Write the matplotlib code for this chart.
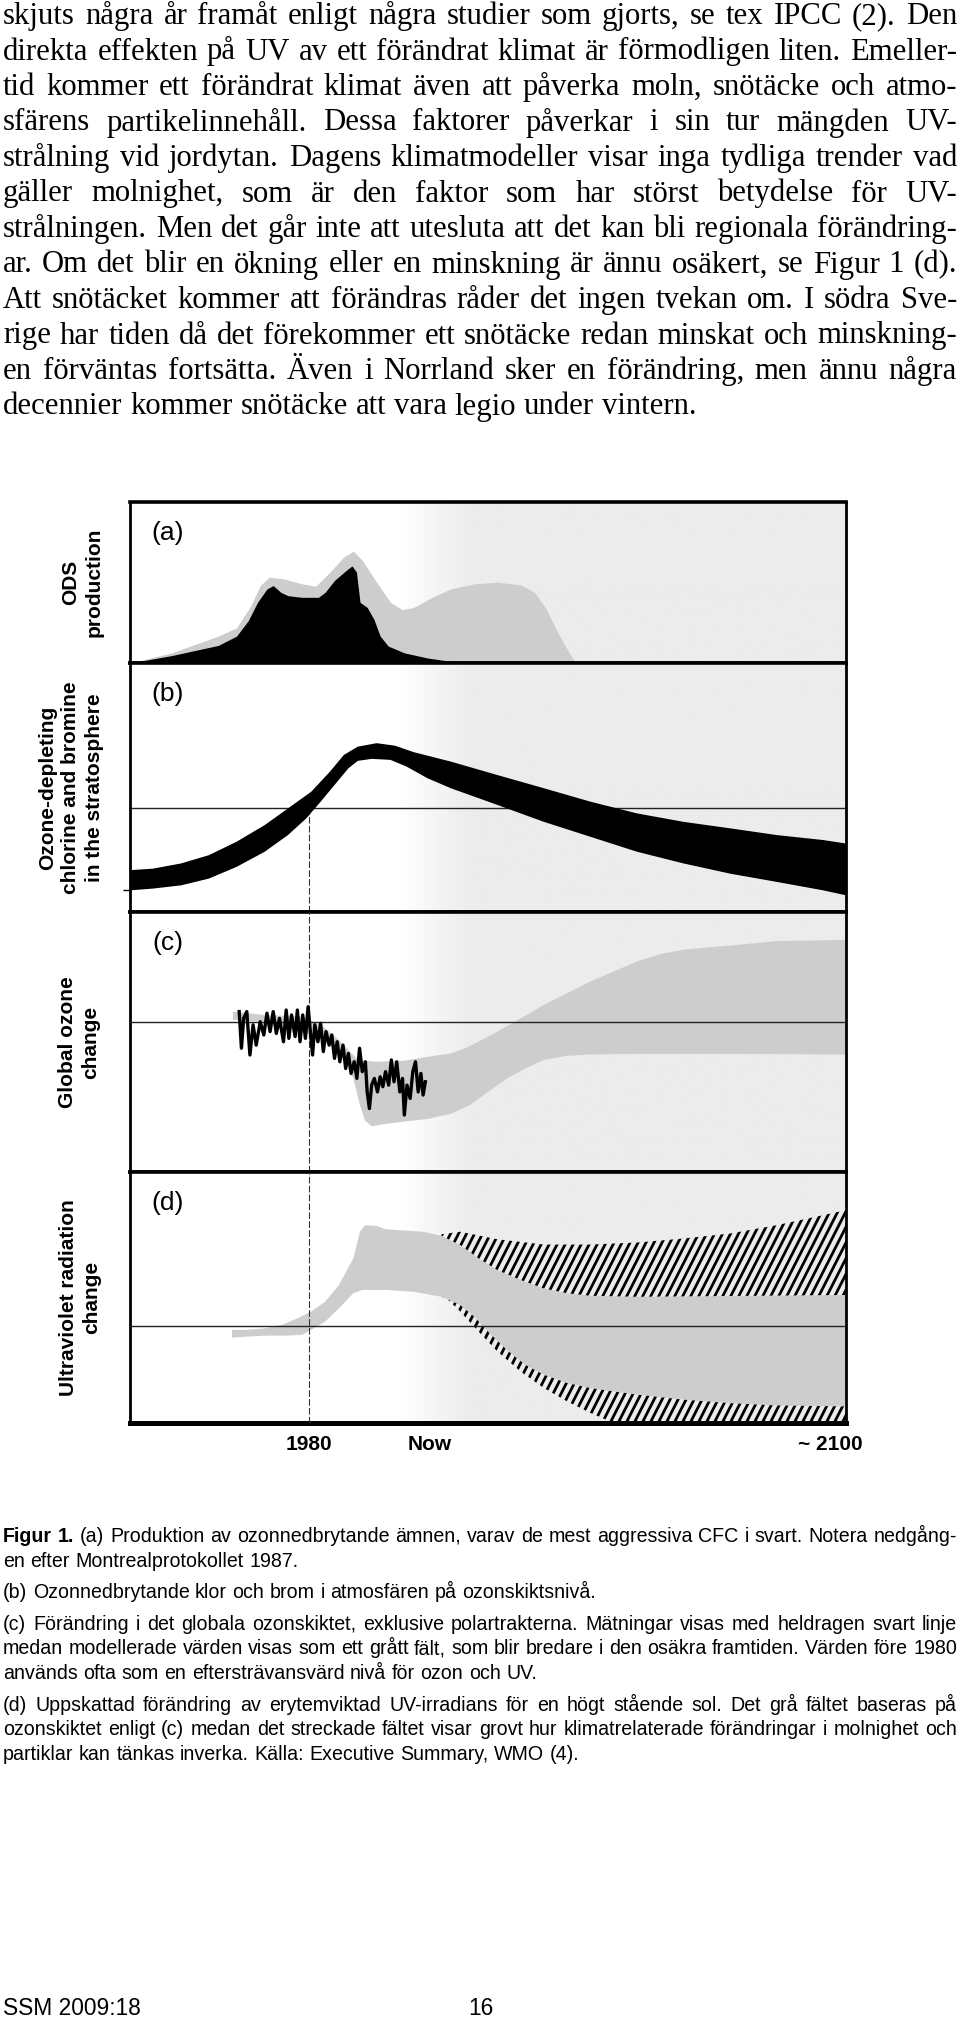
""" Page with ozone/UV figure (a)-(d), body text, caption and footer. """

import numpy as np
import matplotlib
matplotlib.use("Agg")
import matplotlib.pyplot as plt
import matplotlib.transforms as mtransforms
from matplotlib.collections import LineCollection
from matplotlib.colors import LinearSegmentedColormap

W, H, DPI = 960, 2022, 100
SERIF = "Liberation Serif"
SANS = "Liberation Sans"

BODY_LINES = [
    "skjuts några år framåt enligt några studier som gjorts, se tex IPCC (2). Den",
    "direkta effekten på UV av ett förändrat klimat är förmodligen liten. Emeller-",
    "tid kommer ett förändrat klimat även att påverka moln, snötäcke och atmo-",
    "sfärens partikelinnehåll. Dessa faktorer påverkar i sin tur mängden UV-",
    "strålning vid jordytan. Dagens klimatmodeller visar inga tydliga trender vad",
    "gäller molnighet, som är den faktor som har störst betydelse för UV-",
    "strålningen. Men det går inte att utesluta att det kan bli regionala förändring-",
    "ar. Om det blir en ökning eller en minskning är ännu osäkert, se Figur 1 (d).",
    "Att snötäcket kommer att förändras råder det ingen tvekan om. I södra Sve-",
    "rige har tiden då det förekommer ett snötäcke redan minskat och minskning-",
    "en förväntas fortsätta. Även i Norrland sker en förändring, men ännu några",
    "decennier kommer snötäcke att vara legio under vintern.",
]

CAPTION = [
    ["Figur 1. (a) Produktion av ozonnedbrytande ämnen, varav de mest aggressiva CFC i svart. Notera nedgång-",
     "en efter Montrealprotokollet 1987."],
    ["(b) Ozonnedbrytande klor och brom i atmosfären på ozonskiktsnivå."],
    ["(c) Förändring i det globala ozonskiktet, exklusive polartrakterna. Mätningar visas med heldragen svart linje",
     "medan modellerade värden visas som ett grått fält, som blir bredare i den osäkra framtiden. Värden före 1980",
     "används ofta som en eftersträvansvärd nivå för ozon och UV."],
    ["(d) Uppskattad förändring av erytemviktad UV-irradians för en högt stående sol. Det grå fältet baseras på",
     "ozonskiktet enligt (c) medan det streckade fältet visar grovt hur klimatrelaterade förändringar i molnighet och",
     "partiklar kan tänkas inverka. Källa: Executive Summary, WMO (4)."],
]

PANEL_LETTERS = ["(a)", "(b)", "(c)", "(d)"]
PANEL_YLABELS = ["ODS\nproduction",
                 "Ozone-depleting\nchlorine and bromine\nin the stratosphere",
                 "Global ozone\nchange",
                 "Ultraviolet radiation\nchange"]
X_TICKS = [1980, 2007, 2100]
X_TICKLABELS = ["1980", "Now", "~ 2100"]

# (a) ODS production (relative units, 0-100 of panel height)
ods_years = [1940.0, 1949.3, 1959.7, 1963.8, 1967.0, 1969.1, 1971.1, 1974.3, 1978.4, 1981.5,
             1984.7, 1987.8, 1989.9, 1991.9, 1995.1, 1998.2, 2000.8, 2003.4, 2007.5, 2011.7,
             2016.9, 2022.1, 2027.3, 2030.4, 2033.0, 2035.6, 2037.7, 2039.6]
ods_total = [0, 6.3, 16.7, 21.8, 35.6, 48.1, 53.3, 52.3, 49.2, 47.7,
             56.5, 65.9, 69.5, 63.8, 50.2, 37.7, 33.1, 34.5, 40.8, 46.0,
             49.2, 50.2, 48.5, 43.9, 33.5, 18.8, 8.4, 0]
cfc_years = [1940.0, 1949.3, 1959.7, 1963.8, 1966.4, 1968.5, 1970.6, 1972.0, 1973.7, 1975.3,
             1978.4, 1982.1, 1983.6, 1985.7, 1988.3, 1989.6, 1990.6, 1991.4, 1993.0, 1994.5,
             1995.9, 1997.7, 2001.3, 2006.5, 2011.7, 2015.9]
cfc_prod = [0, 4.6, 10.9, 16.7, 26.2, 37.7, 46.0, 48.1, 43.9, 41.8,
            40.8, 40.8, 43.9, 51.3, 57.5, 60.3, 56.5, 37.7, 34.5, 27.2,
            16.7, 10.5, 6.3, 3.1, 1.0, 0]

# (b) stratospheric chlorine and bromine band
chl_up_years = [1940.0, 1945.1, 1951.4, 1957.6, 1963.8, 1970.1, 1975.3, 1980.5, 1984.7, 1987.8,
                1990.9, 1995.1, 1999.2, 2003.4, 2011.7, 2022.1, 2032.5, 2042.9, 2053.3, 2063.7,
                2074.1, 2084.5, 2094.9, 2100.0]
chl_up = [16.8, 17.4, 19.5, 22.8, 28.2, 34.9, 41.6, 48.3, 56.4, 63.1,
          66.4, 67.8, 66.8, 64.2, 60.4, 55.0, 49.7, 44.3, 39.6, 36.2,
          33.6, 30.9, 28.9, 27.5]
chl_lo_years = [1940.0, 1945.1, 1951.4, 1957.6, 1963.8, 1970.1, 1975.3, 1979.4, 1982.6, 1985.7,
                1988.8, 1990.9, 1994.0, 1998.2, 2001.8, 2006.5, 2011.7, 2022.1, 2032.5, 2042.9,
                2053.3, 2063.7, 2074.1, 2084.5, 2094.9, 2100.0]
chl_lo = [8.7, 9.4, 10.7, 13.4, 18.1, 24.2, 30.9, 37.6, 44.3, 51.0,
          57.7, 60.7, 61.5, 61.1, 58.4, 53.7, 49.7, 43.0, 36.2, 30.2,
          24.2, 19.5, 15.4, 12.1, 8.7, 6.7]
chl_ref = 41.6
chl_tick = 9.0

# (c) global ozone: model band and observations
oz_up_years = [1963.0, 1970.1, 1978.4, 1982.6, 1986.7, 1990.9, 1995.1, 2001.3, 2006.5, 2011.7,
               2015.9, 2022.1, 2027.3, 2032.5, 2037.7, 2042.9, 2048.1, 2053.3, 2058.5, 2063.7,
               2074.1, 2084.5, 2094.9, 2100.0]
oz_up = [61.7, 60.4, 59.8, 56.6, 50.8, 43.1, 42.4, 42.8, 44.3, 45.6,
         48.3, 54.0, 59.1, 64.3, 68.8, 73.3, 77.1, 81.0, 83.8, 85.5,
         87.1, 88.8, 89.1, 89.3]
oz_lo_years = [1963.0, 1970.1, 1978.4, 1982.6, 1986.7, 1989.9, 1991.4, 1992.5, 1994.0, 1997.1,
               2001.3, 2006.5, 2011.7, 2015.9, 2020.0, 2024.2, 2028.3, 2032.5, 2037.7, 2042.9,
               2053.3, 2074.1, 2100.0]
oz_lo = [58.5, 57.8, 54.0, 51.4, 46.3, 36.0, 25.7, 19.8, 17.6, 18.5,
         19.4, 20.4, 22.4, 25.7, 30.8, 35.9, 39.8, 43.1, 44.7, 45.2,
         45.4, 45.4, 45.2]
oz_obs_years = [1964.4, 1964.9, 1965.4, 1966.1, 1966.8, 1967.5, 1968.2, 1969.1, 1969.9, 1970.6,
                1971.3, 1972.0, 1972.7, 1973.4, 1974.3, 1974.9, 1975.5, 1976.1, 1976.9, 1977.4,
                1978.0, 1978.6, 1979.2, 1979.8, 1980.3, 1980.8, 1981.3, 1982.0, 1982.6, 1983.2,
                1983.8, 1984.5, 1985.1, 1985.7, 1986.3, 1986.9, 1987.6, 1988.2, 1988.8, 1989.4,
                1990.1, 1990.7, 1991.3, 1991.9, 1992.6, 1993.0, 1993.5, 1994.0, 1994.6, 1995.3,
                1995.9, 1996.5, 1997.1, 1997.8, 1998.4, 1999.0, 1999.6, 2000.3, 2000.9, 2001.3,
                2001.9, 2002.6, 2003.2, 2003.8, 2004.4, 2005.0, 2005.5, 2006.0]
oz_obs = [61.7, 47.6, 59.1, 61.7, 45.0, 56.6, 48.8, 57.8, 52.7, 61.1,
          54.0, 61.7, 53.3, 59.1, 50.1, 62.3, 51.4, 60.4, 52.1, 62.3,
          50.1, 60.4, 51.4, 63.6, 54.0, 45.0, 56.6, 50.1, 57.2, 46.3,
          54.0, 48.8, 52.7, 43.7, 50.1, 42.4, 48.8, 39.8, 45.6, 37.9,
          42.4, 36.0, 47.6, 38.6, 42.4, 30.8, 24.4, 33.4, 36.0, 30.8,
          36.6, 32.8, 38.6, 33.4, 43.1, 34.7, 42.4, 30.8, 36.0, 21.9,
          33.4, 28.3, 38.6, 42.4, 30.8, 37.9, 29.6, 34.7]
oz_ref = 57.6

# (d) UV change: ozone-based band and cloud/aerosol hatched ranges
uv_up_years = [1962.8, 1965.9, 1970.1, 1974.3, 1977.4, 1980.5, 1983.6, 1986.7, 1989.9, 1991.4,
               1992.5, 1995.1, 1997.1, 2001.3, 2005.5, 2009.6, 2013.8, 2017.9, 2022.1, 2027.3,
               2032.5, 2037.7, 2042.9, 2053.3, 2074.1, 2100.0]
uv_up = [37.1, 37.1, 37.7, 39.3, 41.7, 44.4, 48.3, 55.0, 65.6, 76.2,
         78.8, 78.5, 77.2, 76.7, 76.2, 74.6, 70.9, 65.6, 60.9, 57.0,
         53.6, 51.7, 50.7, 50.3, 50.6, 51.0]
uv_lo_years = [1962.8, 1965.9, 1970.1, 1974.3, 1978.4, 1980.5, 1983.6, 1986.7, 1989.9, 1991.9,
               1997.1, 2003.4, 2009.6, 2013.8, 2016.9, 2020.0, 2024.2, 2028.3, 2032.5, 2037.7,
               2042.9, 2053.3, 2063.7, 2074.1, 2084.5, 2100.0]
uv_lo = [34.0, 34.4, 34.8, 34.8, 35.1, 37.1, 40.4, 45.7, 51.7, 53.0,
         53.0, 52.3, 50.3, 47.0, 42.4, 36.4, 29.1, 23.2, 19.2, 15.9,
         13.9, 11.3, 9.3, 7.9, 7.0, 6.6]
cloud_up_years = [2009.6, 2013.8, 2022.1, 2032.5, 2042.9, 2053.3, 2063.7, 2074.1, 2084.5, 2094.9, 2100.0]
cloud_up = [75.2, 76.2, 73.2, 71.1, 71.1, 71.9, 73.5, 75.5, 78.8, 82.8, 84.8]
cloud_lo_years = [2010.7, 2013.8, 2017.9, 2022.1, 2027.3, 2032.5, 2037.7, 2042.9, 2048.1, 2100.0]
cloud_lo = [49.7, 44.4, 36.4, 28.5, 20.5, 13.9, 8.6, 4.0, 0.0, 0.0]
cloud_start = 2009.6
uv_ref = 38.7

GRAY = "#cdcdcd"
BG_GRAY = "#ececec"
FADE_START, FADE_END = 2000.5, 2016.0
HATCH_STEP_PX = 8.0
HATCH_ANGLE = 63.0


def px_axes(fig, left, top, right, bottom):
    return fig.add_axes([left / W, 1 - bottom / H, (right - left) / W, (bottom - top) / H])


def text_width(fig, r, s, **kw):
    t = fig.text(0, 0, s, **kw)
    w = t.get_window_extent(r).width
    t.remove()
    return w


def fit_size(fig, r, s, target, **kw):
    return 20 * target / text_width(fig, r, s, fontsize=20, **kw)


def put_line(fig, r, line, y, x0, x1, size, family, justify, bold_words=0):
    words = line.split(" ")
    items = []
    for i, w in enumerate(words):
        weight = "bold" if i < bold_words else "normal"
        items.append(fig.text(0, 1 - y / H, w, fontsize=size, family=family,
                              fontweight=weight, ha="left", va="baseline"))
    widths = [t.get_window_extent(r).width for t in items]
    if justify and len(words) > 1:
        gap = (x1 - x0 - sum(widths)) / (len(words) - 1)
    else:
        gap = (text_width(fig, r, "x x", fontsize=size, family=family)
               - text_width(fig, r, "xx", fontsize=size, family=family))
    x = x0
    for t, wd in zip(items, widths):
        t.set_x(x / W)
        x += wd + gap


def style_panel(ax, letter, grad, cmap, bottom_lw=2.6):
    ax.imshow(grad, extent=[1940, 2100, 0, 100], aspect="auto", cmap=cmap,
              vmin=0, vmax=1, zorder=0, interpolation="bilinear")
    ax.set_xlim(1940, 2100)
    ax.set_ylim(0, 100)
    ax.set_xticks([])
    ax.set_yticks([])
    ax.spines["top"].set_linewidth(2.6)
    ax.spines["bottom"].set_linewidth(bottom_lw)
    ax.spines["left"].set_linewidth(2.0)
    ax.spines["right"].set_linewidth(2.0)
    ax.annotate(letter, xy=(0, 1), xycoords="axes fraction", xytext=(27.4, -22.3),
                textcoords="offset points", ha="center", va="center",
                fontsize=19, family=SANS)


def hatch_region(ax, xs, ys, w_px, h_px):
    """Fill a polygon with steep diagonal strokes, clipped to the polygon."""
    patch = ax.fill(xs, ys, facecolor="none", lw=0, zorder=2)[0]
    run = h_px / np.tan(np.radians(HATCH_ANGLE))
    starts = np.arange(-run, w_px + HATCH_STEP_PX, HATCH_STEP_PX)
    segs = [[(s / w_px, 0), ((s + run) / w_px, 1)] for s in starts]
    lc = LineCollection(segs, colors="black", linewidths=2.0,
                        transform=ax.transAxes, zorder=2)
    ax.add_collection(lc)
    lc.set_clip_path(patch)


def main():
    fig = plt.figure(figsize=(W / DPI, H / DPI), dpi=DPI)
    fig.patch.set_facecolor("white")
    r = fig.canvas.get_renderer()

    # body text, justified
    body_size = fit_size(fig, r, BODY_LINES[-1], 695, family=SERIF)
    for i, line in enumerate(BODY_LINES):
        put_line(fig, r, line, 24 + i * 35.5, 3, 957, body_size, SERIF,
                 justify=(i < len(BODY_LINES) - 1))

    # figure panels
    cmap = LinearSegmentedColormap.from_list("bg", ["white", BG_GRAY])
    xs = np.linspace(1940, 2100, 640)
    grad = np.clip((xs - FADE_START) / (FADE_END - FADE_START), 0, 1)[None, :]

    tops = [502, 663, 912, 1172]
    bottoms = [663, 912, 1172, 1423]
    axes = [px_axes(fig, 130, t, 846, b) for t, b in zip(tops, bottoms)]
    for k, ax in enumerate(axes):
        style_panel(ax, PANEL_LETTERS[k], grad, cmap, bottom_lw=3.6 if k == 3 else 2.6)
    ax_a, ax_b, ax_c, ax_d = axes

    # (a)
    ax_a.fill_between(ods_years, 0, ods_total, color=GRAY, lw=0, zorder=2)
    ax_a.fill_between(cfc_years, 0, cfc_prod, color="black", lw=0, zorder=3)

    # (b)
    ax_b.axhline(chl_ref, color="#222222", lw=1.0, zorder=1)
    ax_b.vlines(1980, 0, chl_ref, color="#333333", lw=0.8, linestyles=(0, (6, 2)), zorder=1)
    ax_b.fill(chl_up_years + chl_lo_years[::-1], chl_up + chl_lo[::-1],
              color="black", lw=0, zorder=3)
    ax_b.set_yticks([chl_tick])
    ax_b.tick_params(axis="y", length=5, width=1.0, direction="out", labelleft=False)

    # (c)
    ax_c.fill(oz_up_years + oz_lo_years[::-1], oz_up + oz_lo[::-1],
              color=GRAY, lw=0, zorder=2)
    ax_c.axhline(oz_ref, color="#222222", lw=1.0, zorder=3)
    ax_c.axvline(1980, color="#333333", lw=0.8, ls=(0, (6, 2)), zorder=3)
    ax_c.plot(oz_obs_years, oz_obs, color="black", lw=2.4, zorder=4,
              solid_joinstyle="round")

    # (d)
    ax_d.fill(uv_up_years + uv_lo_years[::-1], uv_up + uv_lo[::-1],
              color=GRAY, lw=0, zorder=2)
    up_y = np.array(uv_up_years)
    lo_y = np.array(uv_lo_years)
    sel_up = up_y >= cloud_start
    sel_lo = lo_y >= cloud_start
    d_w, d_h = 846 - 130, 1423 - 1172
    hatch_region(ax_d, cloud_up_years + list(up_y[sel_up][::-1]),
                 cloud_up + list(np.array(uv_up)[sel_up][::-1]), d_w, d_h)
    hatch_region(ax_d, cloud_lo_years + list(lo_y[sel_lo][::-1]),
                 cloud_lo + list(np.array(uv_lo)[sel_lo][::-1]), d_w, d_h)
    ax_d.axhline(uv_ref, color="#222222", lw=1.0, zorder=3)
    ax_d.axvline(1980, color="#333333", lw=0.8, ls=(0, (6, 2)), zorder=3)

    ax_d.set_xticks(X_TICKS)
    ax_d.set_xticklabels(X_TICKLABELS, fontsize=15, fontweight="bold", family=SANS)
    ax_d.tick_params(axis="x", length=0, pad=9)
    last = ax_d.get_xticklabels()[-1]
    last.set_transform(last.get_transform()
                       + mtransforms.ScaledTranslation(-16 / DPI, 0, fig.dpi_scale_trans))

    # rotated panel titles
    label_x = [82, 71, 79, 80]
    for k in range(4):
        yc = (tops[k] + bottoms[k]) / 2
        fig.text(label_x[k] / W, 1 - yc / H, PANEL_YLABELS[k], rotation=90,
                 ha="center", va="center", multialignment="center",
                 fontsize=15, fontweight="bold", family=SANS, linespacing=1.3)

    # caption
    cap_size = fit_size(fig, r, CAPTION[1][0], 588, family=SANS)
    y = 1542
    for p, para in enumerate(CAPTION):
        for j, line in enumerate(para):
            put_line(fig, r, line, y, 3, 957, cap_size, SANS,
                     justify=(j < len(para) - 1), bold_words=2 if (p == 0 and j == 0) else 0)
            y += 24.6
        y += 7

    # footer
    foot_size = fit_size(fig, r, "SSM 2009:18", 138, family=SANS)
    fig.text(3 / W, 1 - 2015 / H, "SSM 2009:18", fontsize=foot_size, family=SANS,
             ha="left", va="baseline")
    fig.text(481 / W, 1 - 2015 / H, "16", fontsize=foot_size, family=SANS,
             ha="center", va="baseline")

    fig.savefig("out.png", dpi=DPI)


if __name__ == "__main__":
    main()
